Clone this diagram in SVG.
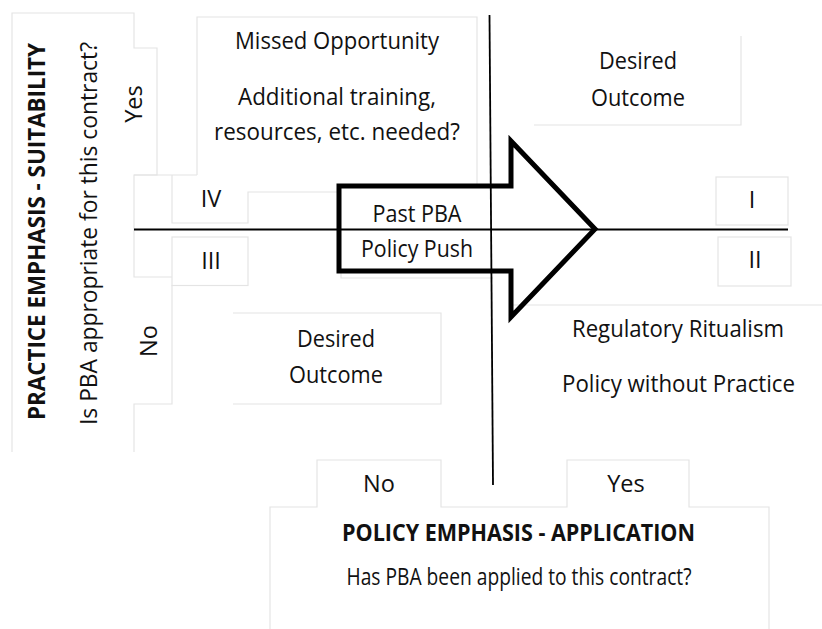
<svg xmlns="http://www.w3.org/2000/svg" width="822" height="629" viewBox="0 0 822 629">
  <style>
    .frame { fill: none; stroke: #e4e4e4; stroke-width: 1.2; }
    .t { font-family: "Open Sans", "Liberation Sans", sans-serif; font-size: 23.5px; fill: #111; text-anchor: middle; }
    .b { font-weight: bold; }
    .axis { fill: none; stroke: #000; stroke-width: 1.8; }
    .push { fill: none; stroke: #000; stroke-width: 5; stroke-linejoin: miter; }
  </style>

  <!-- faint text-box outlines -->
  <g id="outlines">
    <path class="frame" d="M12,452 V13 H134 V48 H157 V175 H134 V277 H172"/>
    <path class="frame" d="M134,175 H197"/>
    <path class="frame" d="M172,285 V404 H134 V452"/>
    <path class="frame" d="M172,175 V223 H248 V192 H337"/>
    <path class="frame" d="M197,175 V17 H477 V188"/>
    <path class="frame" d="M534,125 H741 V36"/>
    <path class="frame" d="M341,273 V278 H493"/>
    <path class="frame" d="M233,313 H441 V404 H233"/>
    <path class="frame" d="M513,305 H822"/>
    <path class="frame" d="M270,629 V507 H317 V460 H441 V507 H567 V460 H689 V507 H769 V629"/>
  </g>

  <!-- quadrant axes -->
  <g id="connectors">
    <line class="axis" x1="134" y1="229.5" x2="788" y2="229.5"/>
    <line class="axis" x1="489.5" y1="15" x2="493" y2="485"/>
  </g>

  <g id="practice-emphasis">
    <text class="t b" transform="translate(45,231.5) rotate(-90)" textLength="377" lengthAdjust="spacingAndGlyphs">PRACTICE EMPHASIS - SUITABILITY</text>
    <text class="t" transform="translate(97,233.5) rotate(-90)" textLength="383" lengthAdjust="spacingAndGlyphs">Is PBA appropriate for this contract?</text>
  </g>

  <g id="practice-yes">
    <text class="t" transform="translate(142,104) rotate(-90)">Yes</text>
  </g>

  <g id="practice-no">
    <text class="t" transform="translate(157,341) rotate(-90)">No</text>
  </g>

  <g id="quadrant-iv">
    <text class="t" x="211" y="207">IV</text>
  </g>

  <g id="missed-opportunity">
    <text class="t" x="337" y="49" textLength="204" lengthAdjust="spacingAndGlyphs">Missed Opportunity</text>
    <text class="t" x="337" y="105" textLength="198" lengthAdjust="spacingAndGlyphs">Additional training,</text>
    <text class="t" x="337" y="140" textLength="246" lengthAdjust="spacingAndGlyphs">resources, etc. needed?</text>
  </g>

  <g id="desired-outcome-top">
    <text class="t" x="638" y="69" textLength="78" lengthAdjust="spacingAndGlyphs">Desired</text>
    <text class="t" x="638" y="106" textLength="94" lengthAdjust="spacingAndGlyphs">Outcome</text>
  </g>

  <g id="quadrant-i">
    <rect class="frame" x="716" y="177" width="72" height="48"/>
    <text class="t" x="752" y="208">I</text>
  </g>

  <g id="quadrant-ii">
    <rect class="frame" x="718" y="237" width="73" height="49"/>
    <text class="t" x="755" y="268">II</text>
  </g>

  <g id="quadrant-iii">
    <rect class="frame" x="172" y="237" width="76" height="48.5"/>
    <text class="t" x="211" y="269">III</text>
  </g>

  <g id="policy-push">
    <path class="push" d="M339,186 H511 V141 L595,229 L511,317 V271 H339 Z"/>
    <text class="t" x="417" y="222" textLength="89" lengthAdjust="spacingAndGlyphs">Past PBA</text>
    <text class="t" x="417" y="257" textLength="112" lengthAdjust="spacingAndGlyphs">Policy Push</text>
  </g>

  <g id="desired-outcome-bottom">
    <text class="t" x="336" y="347" textLength="78" lengthAdjust="spacingAndGlyphs">Desired</text>
    <text class="t" x="336" y="383" textLength="94" lengthAdjust="spacingAndGlyphs">Outcome</text>
  </g>

  <g id="regulatory-ritualism">
    <text class="t" x="678" y="337" textLength="212" lengthAdjust="spacingAndGlyphs">Regulatory Ritualism</text>
    <text class="t" x="678.5" y="392" textLength="233" lengthAdjust="spacingAndGlyphs">Policy without Practice</text>
  </g>

  <g id="policy-no">
    <text class="t" x="379" y="492">No</text>
  </g>

  <g id="policy-yes">
    <text class="t" x="626" y="492">Yes</text>
  </g>

  <g id="policy-emphasis">
    <text class="t b" x="518.5" y="541" textLength="353" lengthAdjust="spacingAndGlyphs">POLICY EMPHASIS - APPLICATION</text>
    <text class="t" x="519" y="585" textLength="345" lengthAdjust="spacingAndGlyphs">Has PBA been applied to this contract?</text>
  </g>
</svg>
